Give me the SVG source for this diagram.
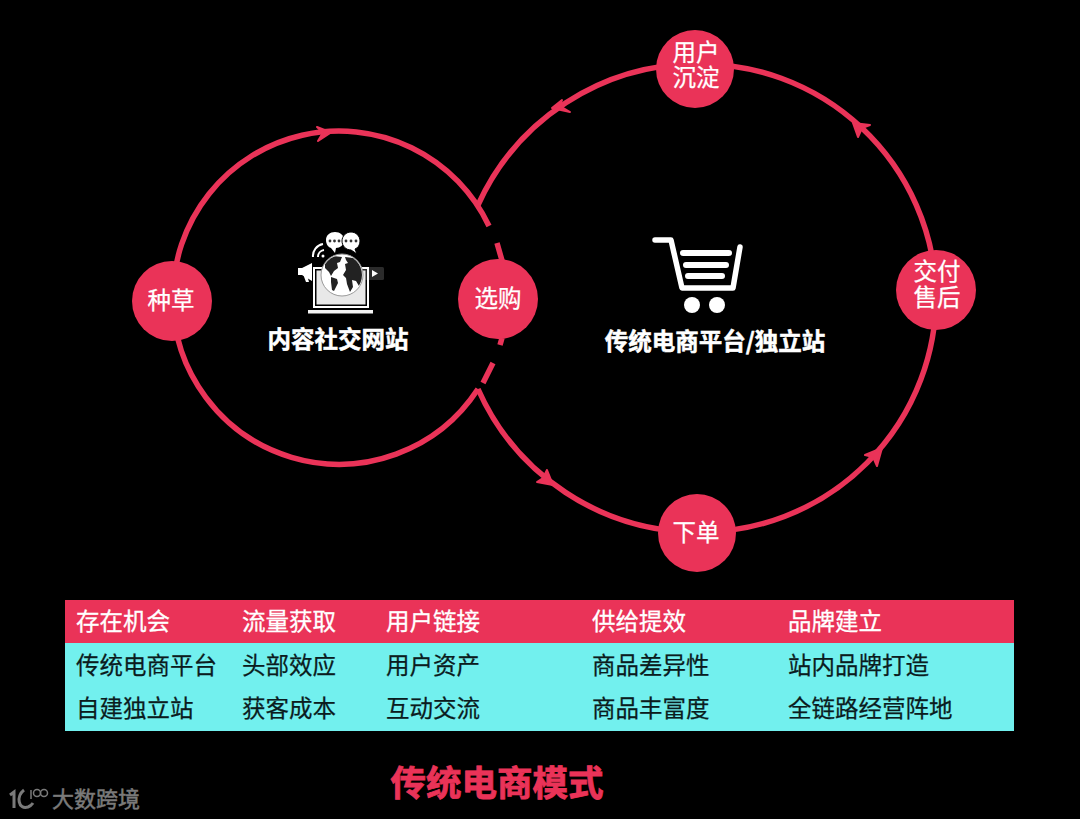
<svg xmlns="http://www.w3.org/2000/svg" width="1080" height="819" viewBox="0 0 1080 819">
<defs>
<clipPath id="globe"><circle cx="342" cy="275" r="20"/></clipPath>
</defs>
<style>
text{font-family:"Noto Sans CJK SC","Noto Sans",sans-serif;text-anchor:middle}
.ring{fill:none;stroke:#ea3358;stroke-width:5.5}
.head{fill:#ea3358;stroke:#ea3358;stroke-width:2;stroke-linejoin:round}
.n{fill:#ea3358}
.nt{fill:#fff;font-size:23.5px;stroke:#fff;stroke-width:.25}
.b{fill:#fff;font-size:23.5px;font-weight:700;stroke:#fff;stroke-width:.5}
.th{fill:#fff;font-size:23.5px;text-anchor:start;stroke:#fff;stroke-width:.3}
.td{fill:#0b1c1e;font-size:23.5px;text-anchor:start;stroke:#0b1c1e;stroke-width:.25}
.ic{fill:none;stroke:#fff}
.dot{fill:#333}
.wm{fill:none;stroke:#7a7a7a}
</style>
<rect width="1080" height="819" fill="#000"/>
<g id="connectors">
<path class="ring" d="M173 298A166 166 0 0 1 489 226"/>
<path class="ring" d="M497 243L503 264M502 338L500 345M493 363L483 383"/>
<path class="ring" d="M173 298A166 166 0 0 0 478 389"/>
<path class="ring" d="M478 205A240 240 0 0 1 695 64A236 236 0 0 1 936 290A236 236 0 0 1 695 532A240 240 0 0 1 478 389"/>
<path class="head" d="M317 127L331 132.500L318 141L323 132.500Z"/>
<path class="head" d="M552 108L562 100L560 106L570 112Z"/>
<path class="head" d="M853 123L870 125L862 128L858 137Z"/>
<path class="head" d="M882 448L865 455L873 457L877 466Z"/>
<path class="head" d="M553 485L547 470L543 478L537 482Z"/>
</g>
<g id="node-zhongcao"><circle class="n" cx="172" cy="301" r="40"/><text class="nt" x="171" y="309">种草</text></g>
<g id="node-xuangou"><circle class="n" cx="498" cy="299" r="40"/><text class="nt" x="498" y="307">选购</text></g>
<g id="node-yonghu"><circle class="n" cx="695" cy="69" r="39"/><text class="nt" x="696"><tspan x="696" y="61">用户</tspan><tspan x="696" y="86">沉淀</tspan></text></g>
<g id="node-jiaofu"><circle class="n" cx="936" cy="290" r="40"/><text class="nt" x="937"><tspan x="937" y="280">交付</tspan><tspan x="937" y="306">售后</tspan></text></g>
<g id="node-xiadan"><circle class="n" cx="697" cy="533" r="39"/><text class="nt" x="696" y="541">下单</text></g>
<g id="content-site">
<path d="M335 232c5 0 9 3 9 8s-4 8-8 8l-1 5-4-5c-3-1-5-4-5-8 0-5 4-8 9-8z" fill="#fff"/>
<path d="M351 232c5 0 9 4 9 9 0 4-2 7-5 8l2 5-6-4c-5 0-9-4-9-9s4-9 9-9z" fill="#fff" stroke="#000" stroke-width="1"/>
<g class="dot"><circle cx="330" cy="241" r="1.400"/><circle cx="334.500" cy="241" r="1.400"/><circle cx="339" cy="241" r="1.400"/><circle cx="346" cy="241" r="1.400"/><circle cx="351" cy="241" r="1.400"/><circle cx="356" cy="241" r="1.400"/></g>
<path class="ic" stroke="#ddd" stroke-width="2" d="M313 257a12 12 0 0 1 10-13M318 257a7 7 0 0 1 6-7"/>
<circle cx="323" cy="256" r="1.500" fill="#fff"/>
<path d="M302 268l10-5v18l-10-6h-4v-7z" fill="#fff"/>
<path d="M303 274l3 8h3l-2-7z" fill="#fff"/>
<rect x="363" y="267" width="21" height="13" rx="1.500" fill="#2b2b2b"/>
<path d="M372 270l6 3.500-6 3.500z" fill="#fff"/>
<rect x="314" y="268" width="54" height="39" fill="none" stroke="#fff" stroke-width="2"/>
<rect x="316.500" y="270.500" width="49" height="34" fill="#e8e8e8"/>
<rect x="308" y="310" width="65" height="3.500" fill="#f4f4f4"/>
<circle cx="342" cy="275" r="21" fill="#fff" stroke="#999" stroke-width="1"/>
<g clip-path="url(#globe)" fill="#222">
<path d="M325 262l8-6 9 1-2 5-3 1 1 5-4 3-3 5-2-4-4-4z"/>
<path d="M331 277l6 2 1 4-4 8-2-1-1-8z"/>
<path d="M345 257l18 2 1 24-5 3-3-5-4-1 1 7-3 5-3-8-1-6-3-3 3-5-1-6 3-1-2-3z"/>
</g>
<text class="b" x="338" y="348">内容社交网站</text>
</g>
<g id="ecommerce-site">
<path class="ic" stroke-width="5.500" stroke-linecap="round" stroke-linejoin="round" d="M655 240H671L682 288H733L740 247"/>
<path class="ic" stroke-width="6" stroke-linecap="round" d="M683 253H729M686 265H726M688 276H722"/>
<circle cx="692" cy="305" r="8" fill="#fff"/><circle cx="717" cy="305" r="8" fill="#fff"/>
<text class="b" x="715" y="350">传统电商平台/独立站</text>
</g>
<g id="table">
<rect x="65" y="600" width="949" height="43" fill="#ea3358"/>
<rect x="65" y="643" width="949" height="88" fill="#72f0ee"/>
<text class="th" x="76" y="630">存在机会</text><text class="th" x="242" y="630">流量获取</text><text class="th" x="386" y="630">用户链接</text><text class="th" x="592" y="630">供给提效</text><text class="th" x="788" y="630">品牌建立</text>
<text class="td" x="76" y="674">传统电商平台</text><text class="td" x="242" y="674">头部效应</text><text class="td" x="386" y="674">用户资产</text><text class="td" x="592" y="674">商品差异性</text><text class="td" x="788" y="674">站内品牌打造</text>
<text class="td" x="76" y="717">自建独立站</text><text class="td" x="242" y="717">获客成本</text><text class="td" x="386" y="717">互动交流</text><text class="td" x="592" y="717">商品丰富度</text><text class="td" x="788" y="717">全链路经营阵地</text>
</g>
<text x="497" y="796" font-size="35.500" font-weight="700" fill="#ea3358" stroke="#ea3358" stroke-width=".8">传统电商模式</text>
<g id="watermark">
<path class="wm" stroke-width="3" d="M10 795l4-3v16"/>
<path class="wm" stroke-width="3" d="M24 790C16 796 18 810 28 807q3-1 5-4"/>
<path class="wm" stroke-width="1.500" d="M31 790v9"/>
<circle class="wm" stroke-width="1.500" cx="37" cy="793" r="3.500"/><circle class="wm" stroke-width="1.500" cx="44" cy="793" r="3.500"/>
<text x="96" y="807" font-size="22" fill="#7a7a7a" stroke="#7a7a7a" stroke-width=".5">大数跨境</text>
</g>
</svg>
